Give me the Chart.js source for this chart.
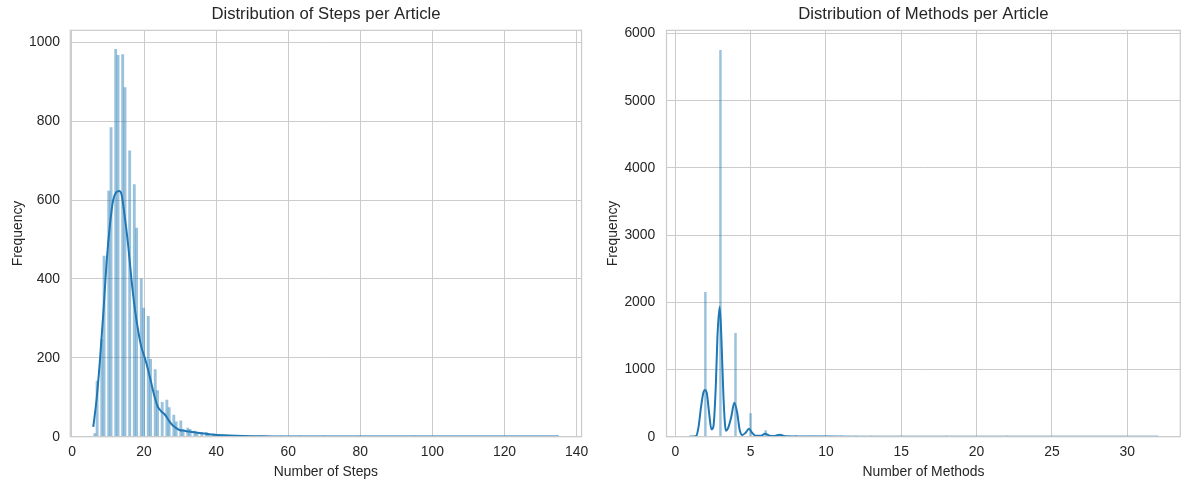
<!DOCTYPE html>
<html>
<head>
<meta charset="utf-8">
<title>Steps and Methods per Article</title>
<script src="https://cdn.jsdelivr.net/npm/chart.js@4.4.1/dist/chart.umd.min.js"></script>
<style>
  html, body { margin: 0; padding: 0; background: #ffffff; }
  #wrap { position: relative; width: 1189px; height: 490px; overflow: hidden; }
  .panel { position: absolute; top: 0; height: 490px; }
</style>
</head>
<body>
<div id="wrap">
  <div class="panel" style="left:0;width:595px"><canvas id="stepsChart"></canvas></div>
  <div class="panel" style="left:595px;width:594px"><canvas id="methodsChart"></canvas></div>
</div>
<script>
// Steps per article: number of steps and how many articles have it
const stepValues = [6, 7, 8, 9, 10, 11, 12, 13, 14, 15, 16, 17, 18, 19, 20, 21, 22, 23, 24, 25,
  26, 27, 28, 29, 30, 31, 32, 33, 34, 35, 36, 37, 38, 39, 40, 41, 42, 43, 44, 45, 46, 47, 48,
  50, 52, 55, 58, 63, 70, 80, 95, 135];
const stepCounts = [8, 141, 247, 458, 623, 784, 982, 967, 969, 885, 725, 639, 529, 400, 326, 305, 196, 170, 117, 87,
  93, 74, 55, 38, 40, 18, 22, 19, 14, 10, 11, 11, 7, 7, 5, 4, 3, 3, 2, 2, 2, 1, 1,
  1, 1, 1, 1, 1, 1, 1, 1, 1];
// histogram bins used for the steps panel
const stepBinMin = 6;
const stepBinMax = 135;
const stepBinCount = 200;

// density curve of the steps (scaled to counts)
const stepKdeX = [5.9, 6.8, 7.7, 8.7, 9.6, 10.5, 11.4, 12.3, 13.1, 13.7, 14.6, 15.6, 16.5, 17.4, 18.3, 19.2, 20.2,
  21.1, 22.0, 22.9, 23.8, 24.8, 25.7, 26.6, 27.5, 28.4, 29.8, 31.2, 32.5, 34, 36.7, 39.5, 42.2, 47.7, 55, 70, 90, 110, 135];
const stepKdeY = [25, 93, 187, 314, 442, 535, 599, 620, 623, 616, 561, 484, 399, 327, 272, 229, 200,
  170, 136, 102, 76, 64, 57, 45, 33, 25, 17, 15, 13, 11, 8, 5, 3.5, 1.5, 0.8, 0.4, 0.3, 0.2, 0.2];

const stepXTicks = [0, 20, 40, 60, 80, 100, 120, 140];
const stepYTicks = [0, 200, 400, 600, 800, 1000];

// Methods per article
const methodValues = [1, 2, 3, 4, 5, 6, 7, 8, 9, 10, 11, 12, 13, 15, 18, 22, 32];
const methodCounts = [5, 2150, 5750, 1540, 345, 90, 35, 15, 8, 5, 3, 2, 1, 1, 1, 1, 1];

const methodKdeX = [0.95, 1.2, 1.4, 1.55, 1.7, 1.85, 1.97, 2.1, 2.25, 2.4, 2.53, 2.69, 2.8, 2.95, 3.06, 3.2, 3.36,
  3.5, 3.72, 3.92, 4.1, 4.28, 4.45, 4.67, 4.89, 5.1, 5.32, 5.7, 5.96, 6.25, 6.6, 6.93, 7.3, 8, 9, 10, 12, 15, 20, 25, 32];
const methodKdeY = [0, 2, 15, 150, 420, 640, 695, 644, 347, 110, 149, 743, 1486, 1935, 1486, 594, 89,
  125, 297, 505, 371, 100, 25, 59, 119, 59, 15, 15, 45, 15, 12, 30, 5, 4, 3, 2, 1, 1, 0.5, 0.3, 0.2];

const methodXTicks = [0, 5, 10, 15, 20, 25, 30];
const methodYTicks = [0, 1000, 2000, 3000, 4000, 5000, 6000];

const textColor = '#262626';
const gridColor = '#cccccc';
const fontFamily = '"Liberation Sans", Arial, "DejaVu Sans", sans-serif';

function binCenter(v) {
  const w = (stepBinMax - stepBinMin) / stepBinCount;
  let k = Math.floor((v - stepBinMin) / w);
  if (k >= stepBinCount) k = stepBinCount - 1;
  return stepBinMin + (k + 0.5) * w;
}

function toPoints(xs, ys) {
  return xs.map((x, i) => ({ x: x, y: ys[i] }));
}

function fixedTicks(values) {
  return (scale) => { scale.ticks = values.map(v => ({ value: v })); };
}

// axes frame (all four spines)
const framePlugin = {
  id: 'frame',
  afterDatasetsDraw(chart) {
    const ctx = chart.ctx;
    const a = chart.chartArea;
    ctx.save();
    ctx.strokeStyle = gridColor;
    ctx.lineWidth = 1.25;
    ctx.strokeRect(a.left, a.top, a.right - a.left, a.bottom - a.top);
    ctx.restore();
  }
};

function makeChart(canvasId, opts) {
  const ctx = document.getElementById(canvasId).getContext('2d');
  return new Chart(ctx, {
    type: 'bar',
    data: {
      datasets: [{
        type: 'line',
        data: opts.kde,
        borderColor: '#1f77b4',
        borderWidth: 2,
        pointRadius: 0,
        cubicInterpolationMode: 'monotone',
        fill: false,
        order: 1
      }, {
        type: 'bar',
        data: opts.bars,
        backgroundColor: 'rgba(31,119,180,0.45)',
        borderWidth: 0,
        barThickness: opts.barThickness,
        order: 2
      }]
    },
    options: {
      responsive: true,
      maintainAspectRatio: false,
      animation: false,
      layout: { padding: { left: 0, right: opts.padRight, top: 0, bottom: 0 } },
      plugins: {
        legend: { display: false },
        tooltip: { enabled: false },
        title: {
          display: true,
          fullSize: false,
          text: opts.title,
          color: textColor,
          font: { family: fontFamily, size: 16.7, weight: 'normal' },
          padding: { top: 4.5, bottom: 5.8 }
        }
      },
      scales: {
        x: {
          type: 'linear',
          offset: false,
          min: opts.xMin,
          max: opts.xMax,
          afterBuildTicks: fixedTicks(opts.xTicks),
          afterFit: (scale) => { scale.height = 53.3; },
          grid: { color: gridColor, lineWidth: 1, drawTicks: false, offset: false },
          border: { display: false },
          ticks: {
            padding: 6.7,
            maxRotation: 0,
            autoSkip: false,
            color: textColor,
            font: { family: fontFamily, size: 13.9 }
          },
          title: {
            display: true,
            text: opts.xTitle,
            color: textColor,
            font: { family: fontFamily, size: 13.9 },
            padding: { top: 0, bottom: 9.7 }
          }
        },
        y: {
          min: 0,
          max: opts.yMax,
          afterBuildTicks: fixedTicks(opts.yTicks),
          afterFit: (scale) => { scale.width = opts.yWidth; },
          grid: { color: gridColor, lineWidth: 1, drawTicks: false },
          border: { display: false },
          ticks: {
            padding: opts.yTickPad,
            autoSkip: false,
            color: textColor,
            font: { family: fontFamily, size: 13.9 },
            callback: (v) => String(v)
          },
          title: {
            display: true,
            text: 'Frequency',
            color: textColor,
            font: { family: fontFamily, size: 13.9 },
            padding: { top: 9.7, bottom: 0 }
          }
        }
      }
    },
    plugins: [framePlugin]
  });
}

const stepsChart = makeChart('stepsChart', {
  title: 'Distribution of Steps per Article',
  xTitle: 'Number of Steps',
  bars: stepValues.map((v, i) => ({ x: binCenter(v), y: stepCounts[i] })),
  kde: toPoints(stepKdeX, stepKdeY),
  barThickness: 2.2,
  xMin: -0.47, xMax: 141.38, xTicks: stepXTicks,
  yMax: 1030.4, yTicks: stepYTicks,
  yWidth: 70.3, yTickPad: 10.3,
  padRight: 10.7
});

const methodsChart = makeChart('methodsChart', {
  title: 'Distribution of Methods per Article',
  xTitle: 'Number of Methods',
  bars: toPoints(methodValues, methodCounts),
  kde: toPoints(methodKdeX, methodKdeY),
  barThickness: 1.8,
  xMin: -0.58, xMax: 33.52, xTicks: methodXTicks,
  yMax: 6049, yTicks: methodYTicks,
  yWidth: 71.5, yTickPad: 11.2,
  padRight: 8.7
});
</script>
</body>
</html>
